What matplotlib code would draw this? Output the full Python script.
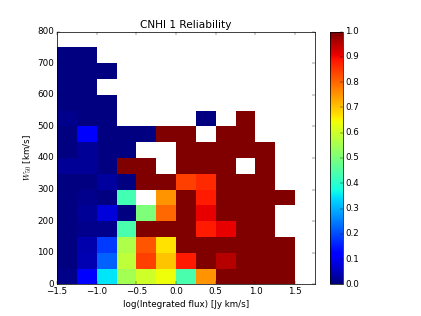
import numpy as np
import matplotlib
matplotlib.use("Agg")
import matplotlib.pyplot as plt

plt.style.use("classic")

# ── Data ─────────────────────────────────────────────────────────────────────
# bin edges: log(integrated flux) and W50 [km/s]
flux_edges = [-1.5, -1.25, -1.0, -0.75, -0.5, -0.25, 0.0, 0.25, 0.5, 0.75, 1.0, 1.25, 1.5]
w50_edges = [0, 50, 100, 150, 200, 250, 300, 350, 400, 450, 500, 550, 600, 650, 700, 750, 800]

N = None  # empty bin
# reliability per W50 bin (rows, bottom -> top), 12 flux bins each
rel_0_50 =    [0.01, 0.12, 0.35, 0.55, 0.60, 0.64, 0.44, 0.75, 1.0, 1.0, 1.0, 1.0]
rel_50_100 =  [0.0, 0.045, 0.22, 0.58, 0.84, 0.70, 0.88, 1.0, 0.95, 1.0, 1.0, 1.0]
rel_100_150 = [0.0, 0.04, 0.18, 0.56, 0.82, 0.67, 1.0, 1.0, 1.0, 1.0, 1.0, 1.0]
rel_150_200 = [0.0, 0.015, 0.015, 0.44, 1.0, 1.0, 1.0, 0.88, 0.91, 1.0, 1.0, N]
rel_200_250 = [0.0, 0.02, 0.08, 0.0, 0.50, 0.80, 1.0, 0.91, 1.0, 1.0, 1.0, N]
rel_250_300 = [0.0, 0.015, 0.0, 0.43, N, 0.75, 1.0, 0.88, 1.0, 1.0, 1.0, 1.0]
rel_300_350 = [0.0, 0.0, 0.03, 0.0, 1.0, 1.0, 0.84, 0.865, 1.0, 1.0, 1.0, N]
rel_350_400 = [0.02, 0.02, 0.0, 1.0, 1.0, N, 1.0, 1.0, 1.0, N, 1.0, N]
rel_400_450 = [0.0, 0.02, 0.0, 0.0, N, N, 1.0, 1.0, 1.0, 1.0, 1.0, N]
rel_450_500 = [0.0, 0.11, 0.0, 0.0, 0.0, 1.0, 1.0, N, 1.0, 1.0, N, N]
rel_500_550 = [0.015, 0.0, 0.0, N, N, N, N, 0.0, N, 1.0, N, N]
rel_550_600 = [0.0, 0.0, 0.0, N, N, N, N, N, N, N, N, N]
rel_600_650 = [0.0, 0.0, N, N, N, N, N, N, N, N, N, N]
rel_650_700 = [0.0, 0.0, 0.0, N, N, N, N, N, N, N, N, N]
rel_700_750 = [0.0, 0.0, N, N, N, N, N, N, N, N, N, N]
rel_750_800 = [N, N, N, N, N, N, N, N, N, N, N, N]

rows = [rel_0_50, rel_50_100, rel_100_150, rel_150_200, rel_200_250, rel_250_300,
        rel_300_350, rel_350_400, rel_400_450, rel_450_500, rel_500_550, rel_550_600,
        rel_600_650, rel_650_700, rel_700_750, rel_750_800]

grid = np.array([[np.nan if v is None else v for v in r] for r in rows], dtype=float)
grid = np.ma.masked_invalid(grid)

# ── Figure ───────────────────────────────────────────────────────────────────
DPI = 52.625
fig = plt.figure(figsize=(421 / DPI, 316 / DPI), dpi=DPI, facecolor="white")
ax = fig.add_axes([57 / 421, 0.1, 258 / 421, 0.8])
cax = fig.add_axes([330 / 421, 0.1, 12.6 / 421, 0.8])

mesh = ax.pcolormesh(flux_edges, w50_edges, grid, cmap="jet", vmin=0, vmax=1)
ax.set_xlim(-1.5, 1.75)
ax.set_ylim(0, 800)
ax.set_xticks([-1.5, -1.0, -0.5, 0.0, 0.5, 1.0, 1.5])
ax.set_yticks(range(0, 801, 100))
ax.set_title("CNHI 1 Reliability")
ax.set_xlabel("log(Integrated flux) [Jy km/s]")
ax.set_ylabel("$W_{50}$ [km/s]")

cb = fig.colorbar(mesh, cax=cax)
cb.set_ticks(np.linspace(0, 1, 11))

fig.savefig("out.png", dpi=DPI, facecolor="white")
